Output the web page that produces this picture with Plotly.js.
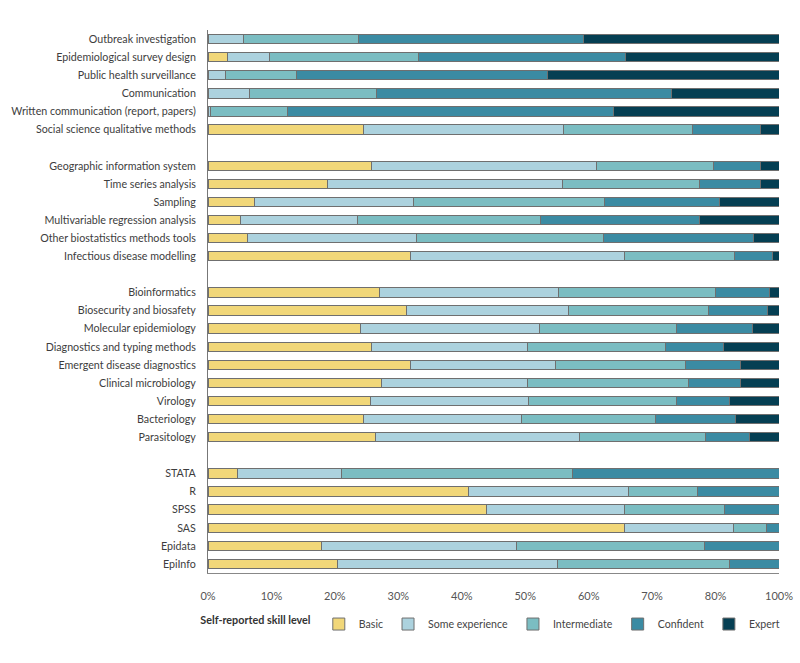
<!DOCTYPE html>
<html>
<head>
<meta charset="utf-8">
<script src="https://cdn.plot.ly/plotly-3.0.1.min.js"></script>
<style>html,body{margin:0;padding:0;background:#fff;}#chart{width:800px;height:663px;}</style>
</head>
<body>
<div id="chart"></div>
<script>
// Categories, top to bottom ("" = gap between groups)
const categories = [
  "Outbreak investigation","Epidemiological survey design","Public health surveillance","Communication","Written communication (report, papers)","Social science qualitative methods",
  "",
  "Geographic information system","Time series analysis","Sampling","Multivariable regression analysis","Other biostatistics methods tools","Infectious disease modelling",
  "",
  "Bioinformatics","Biosecurity and biosafety","Molecular epidemiology","Diagnostics and typing methods","Emergent disease diagnostics","Clinical microbiology","Virology","Bacteriology","Parasitology",
  "",
  "STATA","R","SPSS","SAS","Epidata","EpiInfo"
];
const levels = ["Basic","Some experience","Intermediate","Confident","Expert"];

// Share of respondents (%) per level, same order as categories (null = gap row)
const basic = [0,3.5,0,0,0,27.3, null, 28.6,20.9,8.2,5.7,6.9,35.5, null, 30.1,34.8,26.7,28.7,35.5,30.3,28.4,27.2,29.4, null, 5.2,45.6,48.8,73.0,19.8,22.6];
const someExperience = [6.2,7.2,3.1,7.2,0.5,35.0, null, 39.5,41.1,27.8,20.5,29.6,37.5, null, 31.3,28.3,31.3,27.2,25.3,25.6,27.8,27.7,35.6, null, 18.1,28.0,24.1,19.0,34.3,38.6];
const intermediate = [20.2,26.2,12.4,22.3,13.4,22.6, null, 20.5,24.0,33.5,32.0,32.7,19.2, null, 27.5,24.6,24.1,24.2,22.8,28.2,25.8,23.5,22.1, null, 40.6,12.1,17.5,5.8,32.9,30.1];
const confident = [39.4,36.3,44.0,51.7,57.1,11.9, null, 8.2,10.8,20.0,27.8,26.4,6.7, null, 9.5,10.2,13.3,10.2,9.7,9.2,9.3,13.9,7.7, null, 36.1,14.3,9.6,2.2,13.0,8.7];
const expert = [34.2,26.8,40.5,18.8,29.0,3.2, null, 3.2,3.2,10.5,14.0,4.4,1.1, null, 1.6,2.1,4.6,9.7,6.7,6.7,8.7,7.7,5.2, null, 0,0,0,0,0,0];

// Axis tick labels as printed on the reference
const tickLabels = ["0%","10%","20%","30%","40%","50%","60%","70%","80%","100%"];

const colors = ["#f1d779","#acd2de","#7bbdc2","#3b8ba3","#053f53"];
const series = [basic, someExperience, intermediate, confident, expert];

// unique names for gap rows
let gapCount = 0;
const yCats = categories.map(c => c === "" ? " ".repeat(++gapCount) : c);

const traces = series.map((vals, i) => ({
  type: "bar",
  orientation: "h",
  name: levels[i],
  y: yCats,
  x: vals.map(v => (v === 0 ? null : v)),
  marker: { color: colors[i], line: { color: "#6f6f6f", width: 1 } },
  hoverinfo: "y+x+name"
}));

// ticks: labels spread evenly over the bar length as in the reference
const tickVals = tickLabels.map((t, i) => i * 100 / (tickLabels.length - 1));

const FONT = "Lato, 'Open Sans', sans-serif";

const layout = {
  width: 800, height: 663,
  margin: { l: 208, r: 21, t: 30, b: 90 },
  barmode: "stack",
  bargap: 0.48,
  paper_bgcolor: "#ffffff",
  plot_bgcolor: "#ffffff",
  font: { family: FONT, size: 11, color: "#444" },
  showlegend: true,
  xaxis: {
    range: [0, 100],
    tickvals: tickVals,
    ticktext: tickLabels,
    showgrid: false,
    zeroline: false,
    showline: true,
    linecolor: "#888",
    linewidth: 1,
    ticks: "",
    ticklabelstandoff: 13,
    tickfont: { size: 11, color: "#555" },
    automargin: false,
    fixedrange: true
  },
  yaxis: {
    type: "category",
    categoryorder: "array",
    categoryarray: yCats,
    autorange: "reversed",
    showgrid: false,
    zeroline: false,
    showline: true,
    linecolor: "#777",
    linewidth: 1,
    ticks: "",
    ticklabelstandoff: 9,
    tickfont: { size: 10.7, color: "#3d3d3d" },
    automargin: false,
    fixedrange: true
  },
  legend: {
    orientation: "h",
    x: 0.497, xanchor: "center",
    y: -0.094, yanchor: "middle",
    traceorder: "normal",
    font: { size: 10.6, color: "#444" },
    title: { text: "<b>Self-reported skill level</b>", side: "left", font: { size: 10.8, color: "#333" } },
    itemwidth: 30
  }
};

Plotly.newPlot("chart", traces, layout, { displayModeBar: false, staticPlot: true });
</script>
</body>
</html>
